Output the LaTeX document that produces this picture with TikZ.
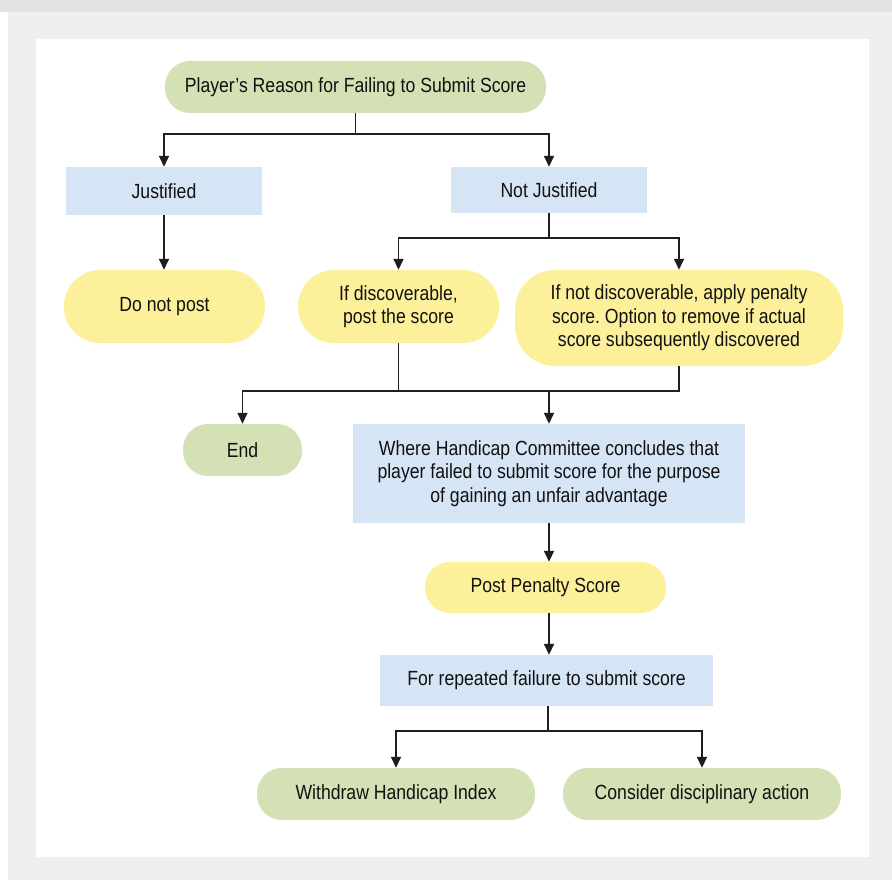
\documentclass[tikz,border=0pt]{standalone}
\usepackage{fontspec}
\setmainfont{Liberation Sans}[FakeStretch=0.86]
\usetikzlibrary{arrows.meta,calc}
\definecolor{bggray}{HTML}{EFEFEF}
\definecolor{stripgray}{HTML}{E2E2E4}
\definecolor{pgreen}{HTML}{D3E1B4}
\definecolor{pyellow}{HTML}{FDF09B}
\definecolor{pblue}{HTML}{D6E5F5}
\definecolor{lineclr}{HTML}{1E1E1E}
\definecolor{txt}{HTML}{111111}
\frenchspacing
\begin{document}
\begin{tikzpicture}[x=1pt,y=-1pt,
  every node/.style={font=\fontsize{20.5}{23.5}\selectfont, text=txt, inner sep=0pt, align=center},
  bluebox/.style={fill=pblue, rectangle},
  greenpill/.style={fill=pgreen, rectangle, rounded corners=25pt},
  yellowpill/.style={fill=pyellow, rectangle, rounded corners=36pt},
  conn/.style={draw=lineclr, line width=1.5pt},
  arr/.style={conn, -{Triangle[length=11pt,width=10pt]}}
]
\useasboundingbox (0,0) rectangle (892,880);
\fill[white] (0,0) rectangle (892,880);
\fill[bggray] (8,0) rectangle (892,880);
\fill[stripgray] (0,0) rectangle (892,12);
\fill[white] (36,39) rectangle (869,857);

\node[greenpill, minimum width=381pt, minimum height=52pt] (top) at (355.5,87) {Player’s Reason for Failing to Submit Score};
\node[bluebox, minimum width=196pt, minimum height=48pt] (just) at (164,191) {Justified};
\node[bluebox, minimum width=196pt, minimum height=46pt] (notj) at (549,190) {Not Justified};
\node[yellowpill, minimum width=201pt, minimum height=73pt] (dnp) at (164.5,306.5) {Do not post};
\node[yellowpill, minimum width=201pt, minimum height=73pt] (disc) at (398.5,306.5) {If discoverable,\\post the score};
\node[yellowpill, rounded corners=40pt, minimum width=328pt, minimum height=96pt] (ndisc) at (679,318) {If not discoverable, apply penalty\\score. Option to remove if actual\\score subsequently discovered};
\node[greenpill, minimum width=119pt, minimum height=52pt] (end) at (242.5,450) {End};
\node[bluebox, minimum width=392pt, minimum height=99pt] (where) at (549,473.5) {Where Handicap Committee concludes that\\player failed to submit score for the purpose\\of gaining an unfair advantage};
\node[yellowpill, rounded corners=25pt, minimum width=241pt, minimum height=51pt] (pps) at (545.5,587.5) {Post Penalty Score};
\node[bluebox, minimum width=333pt, minimum height=51pt] (rep) at (546.5,680.5) {For repeated failure to submit score};
\node[greenpill, minimum width=278pt, minimum height=52pt] (wd) at (396,794) {Withdraw Handicap Index};
\node[greenpill, minimum width=278pt, minimum height=52pt] (cda) at (702,794) {Consider disciplinary action};

\coordinate (b1) at (355.5,134);
\draw[conn] (top.south) -- (b1);
\draw[arr] (b1) -| (just.north);
\draw[arr] (b1) -| (notj.north);
\draw[arr] (just.south) -- (just.south |- dnp.north);

\coordinate (b2) at (549,238);
\draw[conn] (notj.south) -- (b2);
\draw[arr] (b2) -| (disc.north);
\draw[arr] (b2) -| (ndisc.north);

\coordinate (b3) at (549,391);
\draw[conn] (disc.south) |- (b3);
\draw[conn] (ndisc.south) |- (b3);
\draw[arr] (b3) -| (end.north);
\draw[arr] (b3) -- (where.north);

\draw[arr] (where.south) -- (where.south |- pps.north);
\draw[arr] (where.south |- pps.south) -- (where.south |- rep.north);

\coordinate (b4) at (548,731);
\draw[conn] (b4 |- rep.south) -- (b4);
\draw[arr] (b4) -| (wd.north);
\draw[arr] (b4) -| (cda.north);
\end{tikzpicture}
\end{document}
